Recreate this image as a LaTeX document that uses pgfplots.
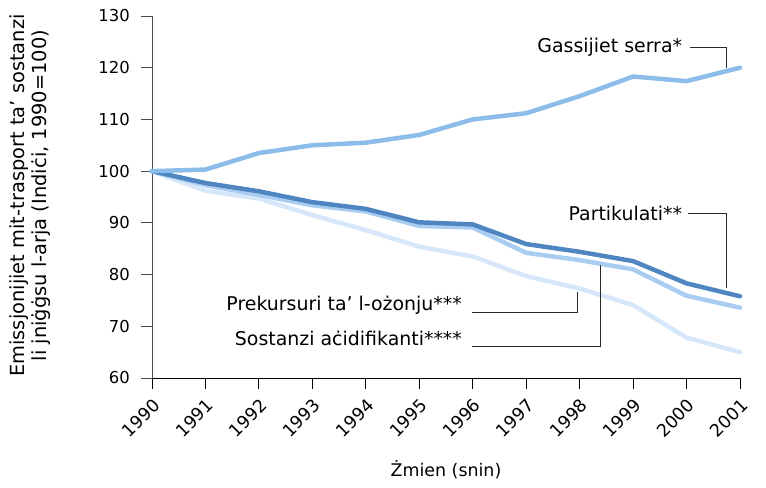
\documentclass[border=0pt]{standalone}
\usepackage{fontspec}
\setmainfont{DejaVu Sans}
\usepackage{pgfplots}
\pgfplotsset{compat=1.18}
\definecolor{ghg}{RGB}{140,189,234}
\definecolor{pm}{RGB}{79,134,193}
\definecolor{ozone}{RGB}{168,205,240}
\definecolor{acid}{RGB}{213,231,249}
\definecolor{leader}{RGB}{40,40,40}

\begin{document}
\begin{tikzpicture}
\begin{axis}[
    scale only axis,
    width=588bp, height=362bp,
    xmin=1990, xmax=2001,
    ymin=60, ymax=130,
    xtick={1990,...,2001},
    xticklabels={1990,1991,1992,1993,1994,1995,1996,1997,1998,1999,2000,2001},
    ytick={60,70,...,130},
    yticklabels={60,70,80,90,100,110,120,130},
    axis x line=bottom, axis y line=left,
    axis line style={-, draw=black!70, line width=0.8pt},
    x axis line style={draw=black},
    tick align=outside,
    major tick length=11bp,
    tick style={black!70, line width=0.8pt},
    xtick style={black},
    tick label style={font=\fontsize{16.5}{19}\selectfont},
    xticklabel style={rotate=45, anchor=north east, inner sep=3bp, font=\fontsize{17.5}{20}\selectfont},
    xticklabel shift=4bp,
    yticklabel style={inner sep=2bp},
    yticklabel shift=9bp,
    xlabel={Żmien (snin)},
    ylabel={Emissjonijiet mit-trasport ta’ sostanzi\\li jniġġsu l-arja (Indiċi, 1990=100)},
    label style={font=\fontsize{17.5}{21}\selectfont, align=center},
    xlabel style={at={(axis description cs:0.5,-0.254)}, anchor=center},
    ylabel style={at={(axis description cs:-0.2075,0.504)}, anchor=center, font=\fontsize{19.5}{22}\selectfont},
    clip=false,
]
\addplot[acid, line width=4.5pt, line join=round, line cap=round] coordinates {
 (1990,100) (1991,96.2) (1992,94.7) (1993,91.5) (1994,88.6) (1995,85.4)
 (1996,83.5) (1997,79.7) (1998,77.3) (1999,74.1) (2000,67.8) (2001,65.0)};
\addplot[ozone, line width=4.5pt, line join=round, line cap=round] coordinates {
 (1990,100) (1991,97.3) (1992,95.4) (1993,93.4) (1994,92.2) (1995,89.4)
 (1996,89.1) (1997,84.2) (1998,82.8) (1999,81.0) (2000,75.9) (2001,73.6)};
\addplot[pm, line width=4.5pt, line join=round, line cap=round] coordinates {
 (1990,100) (1991,97.7) (1992,96.1) (1993,94.0) (1994,92.7) (1995,90.1)
 (1996,89.7) (1997,85.9) (1998,84.4) (1999,82.6) (2000,78.3) (2001,75.8)};
\addplot[ghg, line width=4.5pt, line join=round, line cap=round] coordinates {
 (1990,100) (1991,100.3) (1992,103.5) (1993,105.0) (1994,105.5) (1995,107.0)
 (1996,110.0) (1997,111.2) (1998,114.5) (1999,118.3) (2000,117.4) (2001,120.0)};

\begin{scope}[every node/.style={font=\fontsize{19}{21}\selectfont, anchor=east, inner sep=0pt}]
\node at (axis cs:1999.92,124.0) {Gassijiet serra*};
\node at (axis cs:1999.92,91.9) {Partikulati**};
\node at (axis cs:1995.8,74.1) {Prekursuri ta’ l-ożonju***};
\node at (axis cs:1995.8,67.7) {Sostanzi aċidifikanti****};
\end{scope}
\draw[leader, line width=0.8pt] (axis cs:2000.07,124.0) -| (axis cs:2000.74,119.9);
\draw[leader, line width=0.8pt] (axis cs:2000.03,91.9) -| (axis cs:2000.74,77.4);
\draw[leader, line width=0.8pt] (axis cs:1995.99,72.6) -| (axis cs:1997.95,76.6);
\draw[leader, line width=0.8pt] (axis cs:1995.99,66.2) -| (axis cs:1998.38,81.8);

\coordinate (bbl) at ([xshift=-152bp,yshift=-110bp]rel axis cs:0,0);
\coordinate (btr) at ([xshift=26bp,yshift=16bp]rel axis cs:1,1);
\end{axis}
\pgfresetboundingbox
\path[use as bounding box] (bbl) rectangle (btr);
\end{tikzpicture}
\end{document}
